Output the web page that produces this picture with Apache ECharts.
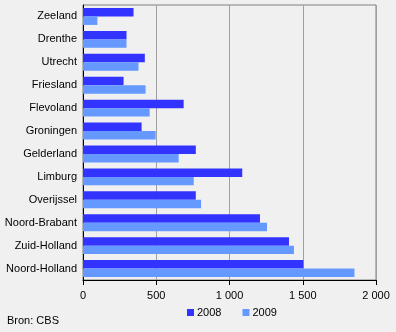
<!DOCTYPE html>
<html><head><meta charset="utf-8">
<script src="https://cdn.jsdelivr.net/npm/echarts@6/dist/echarts.min.js"></script>
<style>html,body{margin:0;padding:0;background:#f0f0f0}#c{width:396px;height:332px}</style>
</head><body><div id="c"></div>
<script>
const categories = ['Zeeland','Drenthe','Utrecht','Friesland','Flevoland','Groningen','Gelderland','Limburg','Overijssel','Noord-Brabant','Zuid-Holland','Noord-Holland'];
const values2008 = [345,297,422,277,687,400,770,1087,770,1208,1406,1504];
const values2009 = [98,297,379,427,455,496,653,756,806,1256,1440,1853];
const seriesNames = ['2008','2009'];
const xTicks = [0,500,1000,1500,2000];
const source = 'Bron: CBS';

const chart = echarts.init(document.getElementById('c'), null, {renderer:'canvas'});
const font = 'Arial, "Liberation Sans", sans-serif';
chart.setOption({
  backgroundColor:'#f0f0f0',
  animation:false,
  textStyle:{fontFamily:font},
  grid:{left:83,right:20,top:5,bottom:52,show:true,borderColor:'#808080',borderWidth:1,backgroundColor:'transparent'},
  legend:{left:182,top:302,itemWidth:7,itemHeight:7,itemGap:21,icon:'rect',
    textStyle:{fontSize:11,color:'#000',fontFamily:font,padding:[0,0,0,-2]},data:seriesNames},
  graphic:[{type:'text',left:7,top:315,style:{text:source,font:'11px '+font,fill:'#000'}}],
  xAxis:{type:'value',min:xTicks[0],max:xTicks[xTicks.length-1],interval:500,
    axisLine:{show:true,lineStyle:{color:'#000'}},
    axisTick:{show:true,length:5,lineStyle:{color:'#000'}},
    axisLabel:{fontSize:11,color:'#000',margin:10,
      formatter:v=>String(v).replace(/\B(?=(\d{3})+(?!\d))/g,' ')},
    splitLine:{show:true,lineStyle:{color:'#a0a0a0'}}},
  yAxis:{type:'category',data:categories,inverse:true,
    axisLine:{show:true,lineStyle:{color:'#000'}},
    axisTick:{show:false},
    axisLabel:{fontSize:11,color:'#000',margin:6}},
  series:[
    {name:seriesNames[0],type:'bar',data:values2008,itemStyle:{color:'#3333ff'},barGap:'0%',barCategoryGap:'26%'},
    {name:seriesNames[1],type:'bar',data:values2009,itemStyle:{color:'#6699ff'},barGap:'0%',barCategoryGap:'26%'}
  ]
});
</script></body></html>
